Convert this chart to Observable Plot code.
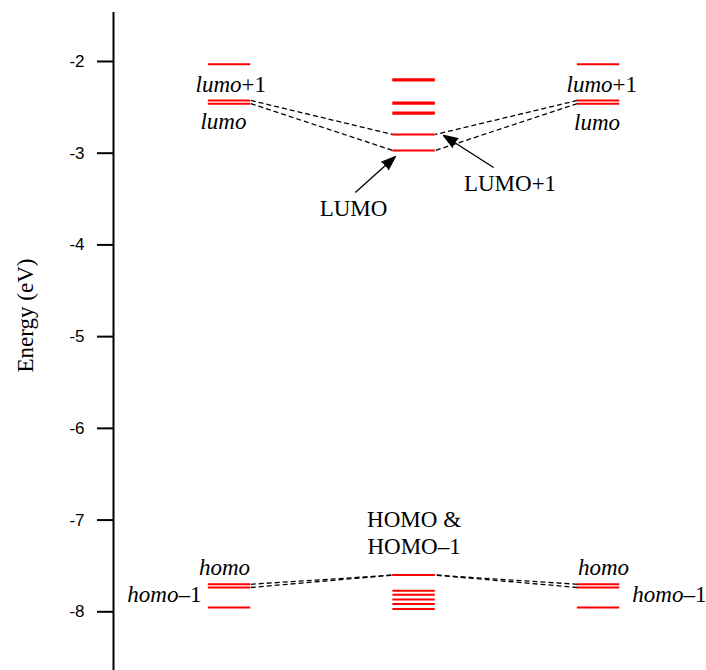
<!DOCTYPE html>
<html>
<head>
<meta charset="utf-8">
<script src="https://cdn.jsdelivr.net/npm/d3@7"></script>
<script src="https://cdn.jsdelivr.net/npm/@observablehq/plot@0.6"></script>
<style>
  html, body { margin: 0; padding: 0; background: #fff; }
  #chart svg { display: block; }
</style>
</head>
<body>
<div id="chart"></div>
<script>
// ---- data ----
const columnNames = ["left", "middle", "right"];
const leftLevels = [-2.03, -2.425, -2.46, -7.70, -7.735, -7.953];
const middleLevels = [-2.193, -2.207, -2.448, -2.462, -2.557, -2.571, -2.796, -2.97,
                      -7.60, -7.60, -7.77, -7.815, -7.866, -7.916, -7.97];
const rightLevels = [-2.03, -2.425, -2.46, -7.70, -7.735, -7.953];
// correlations: outer-column level -> middle-column level
const correlationFrom = [-2.425, -2.46, -7.70, -7.735];
const correlationTo   = [-2.796, -2.97, -7.60, -7.60];
const yTicks = [-2, -3, -4, -5, -6, -7, -8];
const yLabel = "Energy (eV)";

// ---- layout helpers ----
const colPos = {left: 1, middle: 2, right: 3};
const half = 0.115;
const xDomain = [0.371, 3.585];
const yDomain = [-8.64, -1.466];

const levels = [
  ...leftLevels.map(e => ({col: "left", e})),
  ...middleLevels.map(e => ({col: "middle", e})),
  ...rightLevels.map(e => ({col: "right", e}))
];
const links = [];
correlationFrom.forEach((f, i) => {
  links.push({x1: colPos.left + half, y1: f, x2: colPos.middle - half, y2: correlationTo[i]});
  links.push({x1: colPos.right - half, y1: f, x2: colPos.middle + half, y2: correlationTo[i]});
});

// annotations (text, data coordinates)
const italicLabels = [
  {t: "lumo", x: 1.065, y: -2.335, a: "end"},
  {t: "lumo", x: 0.967, y: -2.734, a: "middle"},
  {t: "lumo", x: 3.076, y: -2.335, a: "end"},
  {t: "lumo", x: 2.992, y: -2.745, a: "middle"},
  {t: "homo", x: 0.973, y: -7.604, a: "middle"},
  {t: "homo", x: 0.723, y: -7.895, a: "end"},
  {t: "homo", x: 3.027, y: -7.604, a: "middle"},
  {t: "homo", x: 3.460, y: -7.895, a: "end"}
];
const uprightLabels = [
  {t: "+1", x: 1.065, y: -2.335, a: "start"},
  {t: "+1", x: 3.076, y: -2.335, a: "start"},
  {t: "\u20131", x: 0.723, y: -7.895, a: "start"},
  {t: "\u20131", x: 3.460, y: -7.895, a: "start"},
  {t: "LUMO", x: 1.672, y: -3.687, a: "middle"},
  {t: "LUMO+1", x: 2.520, y: -3.414, a: "middle"},
  {t: "HOMO &\nHOMO\u20131", x: 2.0, y: -7.368, a: "middle"}
];
const arrows = [
  {x1: 1.683, y1: -3.425, x2: 1.899, y2: -3.036},
  {x1: 2.429, y1: -3.153, x2: 2.160, y2: -2.807}
];

const serif = "Liberation Serif, Times New Roman, serif";
const anchors = ["start", "middle", "end"];

const chart = Plot.plot({
  width: 706,
  height: 670,
  marginLeft: 113,
  marginRight: 0,
  marginTop: 12,
  marginBottom: 0,
  style: {background: "#fff", color: "#000", overflow: "visible"},
  x: {domain: xDomain, axis: null},
  y: {domain: yDomain, axis: null},
  marks: [
    Plot.axisY({
      ticks: yTicks,
      tickFormat: d => String(d),
      tickSize: 16,
      tickPadding: 13,
      strokeWidth: 2,
      fontSize: 17,
      fontFamily: "Liberation Sans, Arial, sans-serif",
      label: null
    }),
    Plot.ruleX([xDomain[0]], {stroke: "#000", strokeWidth: 2}),
    Plot.text([yLabel], {
      x: xDomain[0], y: -4.77, dx: -88, rotate: -90,
      fontSize: 23, fontFamily: serif, textAnchor: "middle", fill: "#000"
    }),
    Plot.link(links, {
      x1: "x1", y1: "y1", x2: "x2", y2: "y2",
      stroke: "#000", strokeWidth: 1.3, strokeDasharray: "5,3"
    }),
    Plot.ruleY(levels, {
      y: "e",
      x1: d => colPos[d.col] - half,
      x2: d => colPos[d.col] + half,
      stroke: "#ff0000", strokeWidth: 2
    }),
    Plot.arrow(arrows, {
      x1: "x1", y1: "y1", x2: "x2", y2: "y2",
      stroke: "#000", fill: "#000", strokeWidth: 1.3,
      headLength: 17, headAngle: 40
    }),
    ...anchors.map(anchor =>
      Plot.text(italicLabels.filter(d => d.a === anchor), {
        x: "x", y: "y", text: "t", textAnchor: anchor,
        lineAnchor: "bottom", fontSize: 23, fontFamily: serif,
        fontStyle: "italic", fill: "#000"
      })
    ),
    ...anchors.map(anchor =>
      Plot.text(uprightLabels.filter(d => d.a === anchor), {
        x: "x", y: "y", text: "t", textAnchor: anchor,
        lineAnchor: "bottom", lineHeight: 1.16, fontSize: 23, fontFamily: serif, fill: "#000"
      })
    )
  ]
});
document.getElementById("chart").appendChild(chart);
</script>
</body>
</html>
